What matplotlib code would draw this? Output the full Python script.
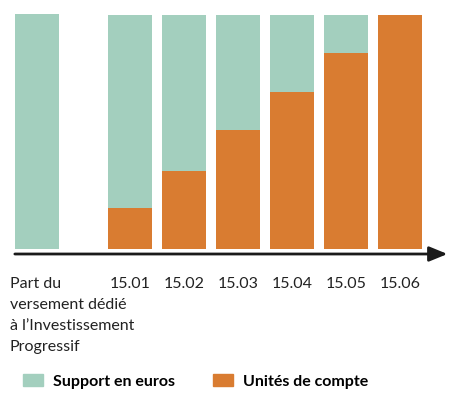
import matplotlib
matplotlib.use("Agg")
import matplotlib.pyplot as plt
from matplotlib.patches import Patch

plt.rcParams['font.family'] = ['Lato', 'DejaVu Sans']

# data
dates = ['15.01', '15.02', '15.03', '15.04', '15.05', '15.06']
unites = [17.5, 33.6, 51, 67, 84, 100]
euros = [100 - u for u in unites]
first_label = ['Part du', 'versement dédié', 'à l\u2019Investissement', 'Progressif']

green = '#a3cfbe'
orange = '#d97c31'

fig = plt.figure(figsize=(4.55, 4.05), dpi=100)
ax = fig.add_axes([0, 0, 1, 1])
ax.set_xlim(-0.685, 7.74)
ax.set_ylim(-66.5, 106.5)
ax.axis('off')

w = 0.815
pos = [1.722 + i for i in range(len(dates))]

ax.bar([0], [100.5], width=w, color=green, bottom=0)
ax.bar(pos, unites, width=w, color=orange)
ax.bar(pos, euros, width=w, bottom=unites, color=green)

ax.annotate('', xy=(7.6, -2), xytext=(-0.41, -2),
            arrowprops=dict(arrowstyle='-|>,head_length=1.1,head_width=0.45',
                            color='#1a1a1a', lw=2, shrinkA=0, shrinkB=0))

for p, d in zip(pos, dates):
    ax.text(p, -16.5, d, ha='center', va='baseline', fontsize=11.5, color='#222222')
# one text per line, 21 px apart
for i, line in enumerate(first_label):
    ax.text(-0.5, -16.5 - i * 8.97, line, ha='left', va='baseline',
            fontsize=11.5, color='#222222')

handles = [Patch(color=green, label='Support en euros'),
           Patch(color=orange, label='Unités de compte')]
ax.legend(handles=handles, loc='center left', bbox_to_anchor=(0.019, 0.058),
          ncol=2, frameon=False, handlelength=1.25, handleheight=0.8,
          columnspacing=2.4, handletextpad=0.62,
          prop={'weight': 'bold', 'size': 11.5})

fig.savefig('out.png', dpi=100)
